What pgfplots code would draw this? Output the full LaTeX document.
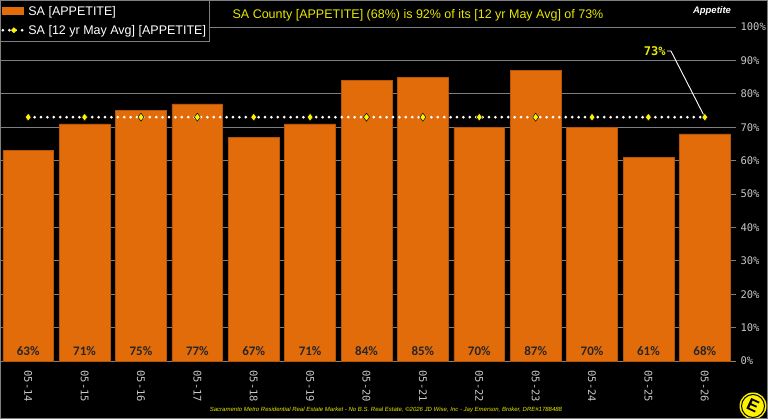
\documentclass[border=0pt]{standalone}
\usepackage{pgfplots}
\pgfplotsset{compat=1.18}
\usepackage{fontspec}
\setmainfont{Liberation Sans}
\newfontfamily\monof{DejaVu Sans Mono}
\newfontfamily\calib{Carlito}
\definecolor{barorange}{HTML}{E36C0A}
\definecolor{baredge}{HTML}{B85508}
\definecolor{titleyellow}{HTML}{E8E800}
\definecolor{gridgray}{HTML}{7F7F7F}
\definecolor{ticktext}{HTML}{C8C8C8}
\begin{document}
\begin{tikzpicture}[x=1pt,y=1pt]
\useasboundingbox (0,0) rectangle (768,419);
\fill[black] (0,0) rectangle (768,419);
\begin{axis}[
  at={(0pt,58pt)}, anchor=south west,
  scale only axis, width=733pt, height=334pt,
  xmin=-0.5, xmax=12.5, ymin=0, ymax=100,
  xtick=data,
  xticklabels={05-14,05-15,05-16,05-17,05-18,05-19,05-20,05-21,05-22,05-23,05-24,05-25,05-26},
  xticklabel style={rotate=-90, anchor=west, font=\monof\fontsize{10.5}{12}\selectfont, text=ticktext, xshift=3pt},
  xtick style={draw=none},
  ytick={0,10,...,100},
  yticklabel={\pgfmathprintnumber{\tick}\%},
  yticklabel pos=right,
  yticklabel style={font=\monof\fontsize{10.5}{12}\selectfont, text=ticktext, anchor=west, xshift=1pt},
  ytick style={draw=gridgray, line width=0.6pt},
  major tick length=3pt, tick align=outside,
  ymajorgrids, grid style={draw=gridgray, line width=0.8pt},
  axis x line*=bottom, axis y line*=right,
  x axis line style={draw=gridgray, line width=0.8pt, -},
  y axis line style={draw=none},
  /pgf/number format/assume math mode=true,
  legend style={at={(axis description cs:0,1.0808)}, anchor=north west, fill=black, draw=gridgray, line width=0.8pt, text=white, font=\fontsize{12.5}{15}\selectfont, inner xsep=1pt, inner ysep=4pt, row sep=4pt, legend cell align=left},
  legend image post style={line width=0.8pt},
  clip=false,
]
\addplot[ybar, bar width=0.9, fill=barorange, draw=baredge, line width=0.6pt, area legend,
  legend image code/.code={\fill[barorange] (0pt,-3pt) rectangle (20pt,4pt);}]
  coordinates {(0,63) (1,71) (2,75) (3,77) (4,67) (5,71) (6,84) (7,85) (8,70) (9,87) (10,70) (11,61) (12,68)};
\addlegendentry{SA [APPETITE]}
\addplot[white, line width=3pt, line cap=round, dash pattern=on 0pt off 6.4pt,
  mark=diamond*, mark size=4pt, mark options={fill=yellow, draw=black, line width=0.5pt, solid},
  legend image code/.code={
    \draw[white, line width=3pt, line cap=round, dash pattern=on 0pt off 6.4pt] (0pt,0pt) -- (22pt,0pt);
    \draw[black, fill=yellow, line width=0.4pt] (11pt,3pt) -- (14pt,0pt) -- (11pt,-3pt) -- (8pt,0pt) -- cycle;}]
  coordinates {(0,73) (1,73) (2,73) (3,73) (4,73) (5,73) (6,73) (7,73) (8,73) (9,73) (10,73) (11,73) (12,73)};
\addlegendentry{SA [12 yr May Avg] [APPETITE]}
\addplot[draw=none, mark=none, point meta=explicit symbolic,
  nodes near coords={\pgfplotspointmeta\%},
  nodes near coords style={anchor=south, yshift=2pt, font=\calib\bfseries\fontsize{13}{15}\selectfont, text=black!85},
  forget plot]
  coordinates {(0,0) [63] (1,0) [71] (2,0) [75] (3,0) [77] (4,0) [67] (5,0) [71] (6,0) [84] (7,0) [85] (8,0) [70] (9,0) [87] (10,0) [70] (11,0) [61] (12,0) [68]};
\draw[white, line width=0.9pt] (axis cs:12,73) -- (axis cs:11.40,92.8) -- (axis cs:11.33,92.8)
  node[left, inner sep=1pt, text=titleyellow, font=\monof\bfseries\fontsize{12}{14}\selectfont] {73\%};
\end{axis}
\node[text=titleyellow, font=\fontsize{12.5}{15}\selectfont] at (418,404) {SA County [APPETITE] (68\%) is 92\% of its [12 yr May Avg] of 73\%};
\node[text=white, font=\bfseries\itshape\fontsize{9.5}{11}\selectfont] at (712,408) {Appetite};
\node[text=titleyellow, font=\itshape\fontsize{6}{7}\selectfont] at (386,9) {Sacramento Metro Residential Real Estate Market - No B.S. Real Estate, \textcopyright2026 JD Wise, Inc - Jay Emerson, Broker, DRE\#1788488};
\fill[yellow] (753,13) circle (13.5);
\draw[black, line width=1pt] (753,13) circle (11.5);
\node[text=black, font=\bfseries\fontsize{17}{17}\selectfont, rotate=-25] at (753,13) {E};
\draw[gridgray, line width=1pt] (0.5,0.5) rectangle (767.5,418.5);
\end{tikzpicture}
\end{document}
